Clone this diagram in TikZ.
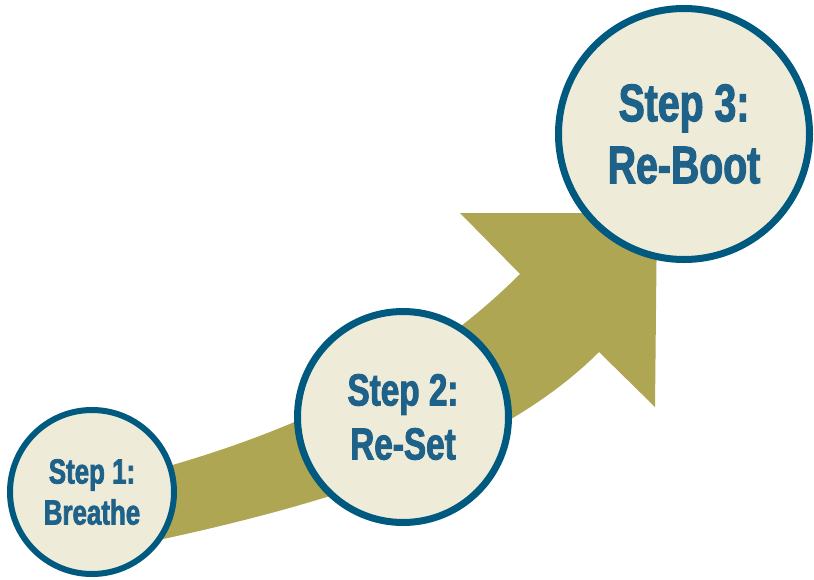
\documentclass[tikz,border=0pt]{standalone}
\usepackage{fontspec}
\newfontfamily\stepfont[FakeStretch=0.74,FakeBold=2]{Liberation Sans Bold}
\definecolor{stepblue}{HTML}{005A80}
\definecolor{steptext}{HTML}{1E6189}
\definecolor{stepfill}{HTML}{EFEBD9}
\definecolor{olive}{HTML}{AEA653}
\begin{document}
\begin{tikzpicture}[x=1pt, y=-1pt, main node/.style={circle,draw=stepblue,fill=stepfill,text=steptext,align=center,inner sep=0pt}]

                \useasboundingbox (0,0) rectangle (814,579);

                % the rising arrow
                \coordinate (top notch) at (520,274);
                \coordinate (low notch) at (599,352);
                \fill[olive] (140,474) .. controls (310,429) and (430,364) .. (top notch)
                    -- (460,213) -- (657,213) -- (655,407) -- (low notch)
                    .. controls (499,452) and (330,504) .. (140,544) -- cycle;

                \node[main node, line width=6pt, minimum size=164pt, font=\stepfont\fontsize{35}{41}\selectfont] at (92,492) (breathe) {Step 1:\\Breathe};
                \node[main node, line width=7pt, minimum size=211pt, font=\stepfont\fontsize{45}{54}\selectfont] at (403,417) (reset) {Step 2:\\Re-Set};
                \node[main node, line width=7pt, minimum size=251pt, font=\stepfont\fontsize{53}{62}\selectfont] at (684,134) (reboot) {Step 3:\\Re-Boot};
            \end{tikzpicture}
\end{document}
